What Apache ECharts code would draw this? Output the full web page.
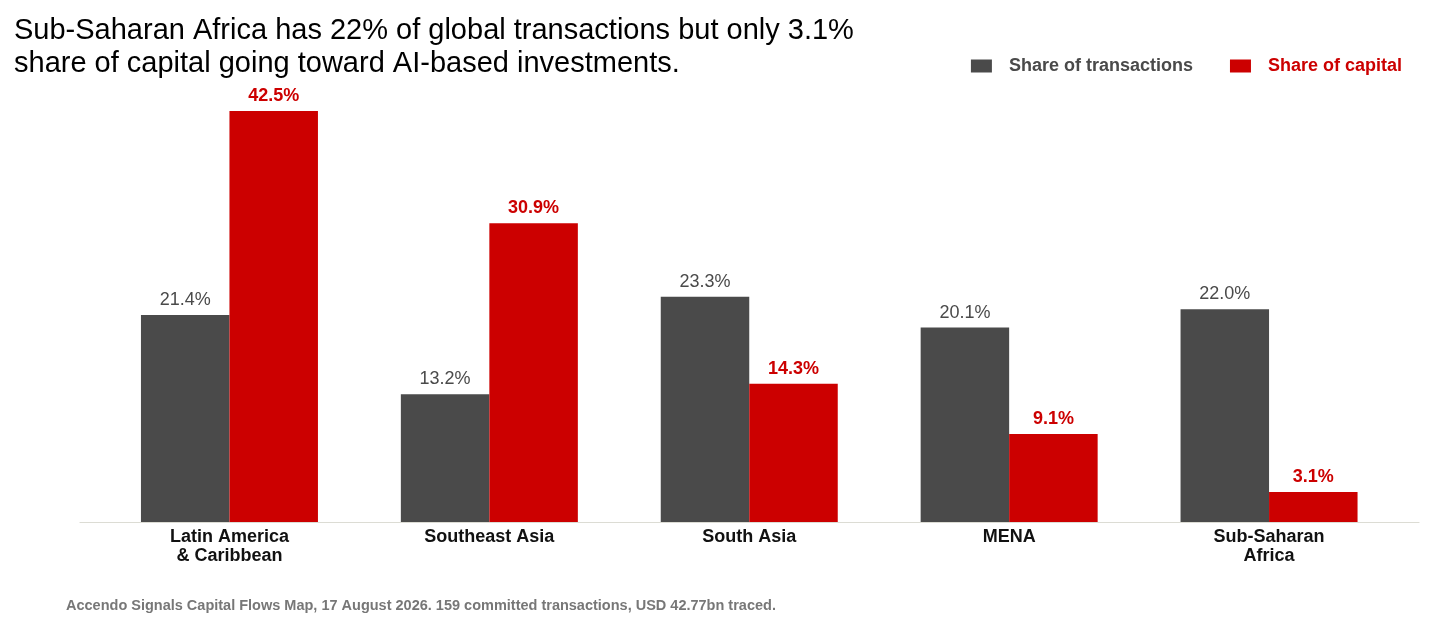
<!DOCTYPE html>
<html lang="en">
  <head>
    <meta charset="UTF-8" />
    <title>AI-based investments by region</title>
    <script src="https://cdn.jsdelivr.net/npm/echarts@6.0.0/dist/echarts.min.js"></script>
    <style>
      html, body { margin: 0; padding: 0; background: #fff; }
      #main { width: 1455px; height: 635px; }
    </style>
  </head>
  <body>
    <div id="main"></div>
    <script>
      var regions = ["Latin America\n& Caribbean", "Southeast Asia", "South Asia", "MENA", "Sub-Saharan\nAfrica"];
      var shareTransactions = [21.4, 13.2, 23.3, 20.1, 22.0];
      var shareCapital = [42.5, 30.9, 14.3, 9.1, 3.1];

      var GRAY = "#4a4a4a";
      var RED = "#cc0000";
      var FONT = "'Liberation Sans', Arial, sans-serif";

      var myChart = echarts.init(document.getElementById("main"));

      function pct(p) {
        return p.value.toFixed(1) + "%";
      }

      var option = {
        backgroundColor: "#fff",
        animation: false,
        title: [
          {
            text: "Sub-Saharan Africa has 22% of global transactions but only 3.1%\nshare of capital going toward AI-based investments.",
            left: 9,
            top: 9,
            textStyle: {
              fontFamily: FONT,
              fontSize: 29,
              fontWeight: "normal",
              color: "#000",
              lineHeight: 33,
            },
          },
          {
            text: "Accendo Signals Capital Flows Map, 17 August 2026. 159 committed transactions, USD 42.77bn traced.",
            left: 61,
            top: 593,
            textStyle: {
              fontFamily: FONT,
              fontSize: 14.5,
              fontWeight: "bold",
              color: "#777",
            },
          },
        ],
        legend: {
          right: 48,
          top: 52,
          itemWidth: 21,
          itemHeight: 13,
          itemGap: 37,
          icon: "rect",
          textStyle: { fontFamily: FONT, fontSize: 18, fontWeight: "bold", padding: [0, 0, 0, 12] },
          data: [
            { name: "Share of transactions", textStyle: { color: GRAY } },
            { name: "Share of capital", textStyle: { color: RED } },
          ],
        },
        grid: [
          { left: 99.5, right: 56, top: 111, bottom: 113 },
          // wider grid only used for the baseline rule
          { left: 80, right: 36, top: 111, bottom: 113 },
        ],
        xAxis: [
          {
            type: "category",
            gridIndex: 0,
            data: regions,
            axisLine: { show: false },
            axisTick: { show: false },
            axisLabel: {
              margin: 6,
              fontFamily: FONT,
              fontSize: 18,
              fontWeight: "bold",
              color: "#111",
              lineHeight: 19,
            },
          },
          {
            type: "value",
            gridIndex: 1,
            min: 0,
            max: 1,
            axisLine: { show: true, onZero: false, lineStyle: { color: "#dcdcd4", width: 1.2 } },
            axisTick: { show: false },
            axisLabel: { show: false },
            splitLine: { show: false },
          },
        ],
        yAxis: [
          { type: "value", gridIndex: 0, min: 0, max: 42.5, show: false, splitLine: { show: false } },
          { type: "value", gridIndex: 1, min: 0, max: 1, show: false, splitLine: { show: false } },
        ],
        series: [
          {
            name: "Share of transactions",
            type: "bar",
            xAxisIndex: 0,
            yAxisIndex: 0,
            data: shareTransactions,
            barWidth: 88.5,
            barGap: "0%",
            itemStyle: { color: GRAY },
            label: {
              show: true,
              position: "top",
              distance: 6,
              formatter: pct,
              fontFamily: FONT,
              fontSize: 18,
              color: GRAY,
            },
          },
          {
            name: "Share of capital",
            type: "bar",
            xAxisIndex: 0,
            yAxisIndex: 0,
            data: shareCapital,
            barWidth: 88.5,
            barGap: "0%",
            itemStyle: { color: RED },
            label: {
              show: true,
              position: "top",
              distance: 6,
              formatter: pct,
              fontFamily: FONT,
              fontSize: 18,
              fontWeight: "bold",
              color: RED,
            },
          },
        ],
      };

      myChart.setOption(option);
    </script>
  </body>
</html>
